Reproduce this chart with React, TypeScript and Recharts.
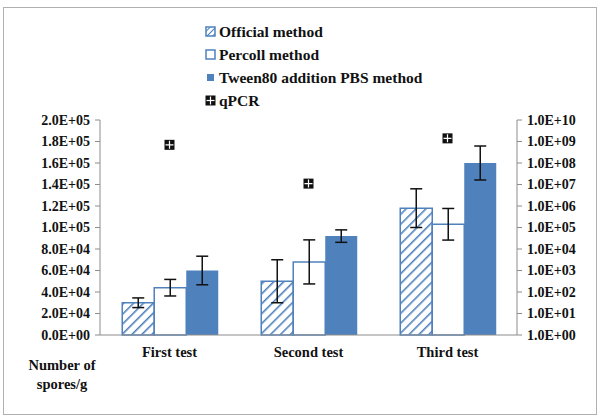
import React from 'react';
import { ComposedChart, Bar, Line, XAxis, YAxis, ErrorBar, Legend } from 'recharts';

const categories = ['First test', 'Second test', 'Third test'];
const official = [30000, 50000, 118000];
const officialErr = [4500, 20000, 18000];
const percoll = [44000, 68000, 103000];
const percollErr = [7700, 20500, 14700];
const tween = [60000, 92000, 160000];
const tweenErr = [13300, 5800, 15800];
const qpcr = [7e8, 1.1e7, 1.4e9];

const leftTicks = [0, 20000, 40000, 60000, 80000, 100000, 120000, 140000, 160000, 180000, 200000];
const rightTicks = [1, 10, 100, 1e3, 1e4, 1e5, 1e6, 1e7, 1e8, 1e9, 1e10];

const data = categories.map((name, i) => ({
    name,
    official: official[i],
    officialErr: officialErr[i],
    percoll: percoll[i],
    percollErr: percollErr[i],
    tween: tween[i],
    tweenErr: tweenErr[i],
    qpcr: qpcr[i],
}));

const BLUE = '#4f81bd';
const AXIS = '#8c8c8c';
const FONT = '"Liberation Serif", "Times New Roman", "DejaVu Serif", serif';

const sci = (v: number) => {
    const [m, e] = v.toExponential(1).split('e');
    const sign = e[0];
    const d = e.slice(1).padStart(2, '0');
    return `${m}E${sign}${d}`;
};

const tickStyle = { fontSize: 14, fontWeight: 700, fill: '#111', fontFamily: FONT };

const QpcrDot = (props: any) => {
    const { cx, cy } = props;
    if (cx == null || cy == null) return null;
    return (
        <g>
            <rect x={cx - 5} y={cy - 5} width={10} height={10} fill="#111" />
            <line x1={cx} y1={cy - 4} x2={cx} y2={cy + 4} stroke="#fff" strokeWidth={1.2} />
            <line x1={cx - 4} y1={cy} x2={cx + 4} y2={cy} stroke="#fff" strokeWidth={1.2} />
        </g>
    );
};

const legendItems = [
    { label: 'Official method', kind: 'hatch' },
    { label: 'Percoll method', kind: 'open' },
    { label: 'Tween80 addition PBS method', kind: 'solid' },
    { label: 'qPCR', kind: 'qpcr' },
];

const LegendIcon = ({ kind }: { kind: string }) => (
    <svg width={11} height={11} style={{ marginRight: 3 }}>
        {kind === 'hatch' && (
            <rect x={1} y={1} width={9} height={9} fill="url(#hatchLegend)" stroke={BLUE} strokeWidth={1.5} />
        )}
        {kind === 'open' && <rect x={1} y={1} width={9} height={9} fill="#fff" stroke={BLUE} strokeWidth={1.5} />}
        {kind === 'solid' && <rect x={2} y={2} width={7} height={7} fill={BLUE} />}
        {kind === 'qpcr' && (
            <g>
                <rect x={0.5} y={0.5} width={10} height={10} fill="#111" />
                <line x1={5.5} y1={1.5} x2={5.5} y2={9.5} stroke="#fff" strokeWidth={1.2} />
                <line x1={1.5} y1={5.5} x2={9.5} y2={5.5} stroke="#fff" strokeWidth={1.2} />
            </g>
        )}
    </svg>
);

const CustomLegend = () => (
    <div style={{ fontFamily: FONT, fontWeight: 700, fontSize: 15.5, color: '#111' }}>
        {legendItems.map((it) => (
            <div key={it.label} style={{ display: 'flex', alignItems: 'center', height: 23 }}>
                <LegendIcon kind={it.kind} />
                <span>{it.label}</span>
            </div>
        ))}
    </div>
);

export default function App() {
    return (
        <div
            style={{
                position: 'absolute',
                left: 0,
                top: 0,
                width: 601,
                height: 419,
                background: '#fff',
                fontFamily: FONT,
            }}
        >
            <div
                style={{
                    position: 'absolute',
                    left: 3,
                    top: 7,
                    width: 592,
                    height: 406,
                    border: '1px solid #b0b0b0',
                }}
            />
            <svg width={0} height={0} style={{ position: 'absolute' }}>
                <defs>
                    <pattern id="hatchLegend" patternUnits="userSpaceOnUse" width={4} height={4} patternTransform="rotate(45)">
                        <rect width={4} height={4} fill="#fff" />
                        <line x1={0} y1={0} x2={0} y2={4} stroke={BLUE} strokeWidth={2} />
                    </pattern>
                </defs>
            </svg>
            <ComposedChart
                width={601}
                height={419}
                data={data}
                margin={{ top: 120, right: 0, left: 0, bottom: 54 }}
                barCategoryGap="16%"
                barGap={0}
            >
                <defs>
                    <pattern id="hatch" patternUnits="userSpaceOnUse" width={7} height={7} patternTransform="rotate(45)">
                        <rect width={7} height={7} fill="#fff" />
                        <line x1={0} y1={0} x2={0} y2={7} stroke={BLUE} strokeWidth={3.2} />
                    </pattern>
                </defs>
                <XAxis
                    dataKey="name"
                    height={30}
                    tickLine={false}
                    axisLine={{ stroke: AXIS }}
                    tick={{ ...tickStyle, fontSize: 14.5 }}
                    tickMargin={6}
                />
                <YAxis
                    yAxisId="left"
                    width={100}
                    domain={[0, 200000]}
                    ticks={leftTicks}
                    tickFormatter={sci}
                    axisLine={{ stroke: AXIS }}
                    tickLine={{ stroke: AXIS }}
                    tickSize={5}
                    tickMargin={5}
                    tick={tickStyle}
                    interval={0}
                />
                <YAxis
                    yAxisId="right"
                    orientation="right"
                    width={84}
                    scale="log"
                    domain={[1, 1e10]}
                    allowDataOverflow
                    ticks={rightTicks}
                    tickFormatter={sci}
                    axisLine={{ stroke: AXIS }}
                    tickLine={{ stroke: AXIS }}
                    tickSize={5}
                    tickMargin={5}
                    tick={tickStyle}
                    interval={0}
                />
                <Legend
                    layout="horizontal"
                    align="center"
                    verticalAlign="middle"
                    content={<CustomLegend />}
                    wrapperStyle={{ position: 'absolute', top: 20, left: 205, width: 320 }}
                />
                <Bar yAxisId="left" dataKey="official" name="Official method" fill="url(#hatch)" stroke={BLUE} strokeWidth={1.5} isAnimationActive={false}>
                    <ErrorBar dataKey="officialErr" width={6} stroke="#111" strokeWidth={1.5} />
                </Bar>
                <Bar yAxisId="left" dataKey="percoll" name="Percoll method" fill="#fff" stroke={BLUE} strokeWidth={1.5} isAnimationActive={false}>
                    <ErrorBar dataKey="percollErr" width={6} stroke="#111" strokeWidth={1.5} />
                </Bar>
                <Bar yAxisId="left" dataKey="tween" name="Tween80 addition PBS method" fill={BLUE} isAnimationActive={false}>
                    <ErrorBar dataKey="tweenErr" width={6} stroke="#111" strokeWidth={1.5} />
                </Bar>
                <Line
                    yAxisId="right"
                    dataKey="qpcr"
                    name="qPCR"
                    stroke="none"
                    dot={<QpcrDot />}
                    activeDot={false}
                    isAnimationActive={false}
                />
            </ComposedChart>
            <div
                style={{
                    position: 'absolute',
                    left: 22,
                    top: 356,
                    width: 80,
                    textAlign: 'center',
                    fontFamily: FONT,
                    fontWeight: 700,
                    fontSize: 14.5,
                    lineHeight: '19px',
                    color: '#111',
                }}
            >
                Number of
                <br />
                spores/g
            </div>
        </div>
    );
}
